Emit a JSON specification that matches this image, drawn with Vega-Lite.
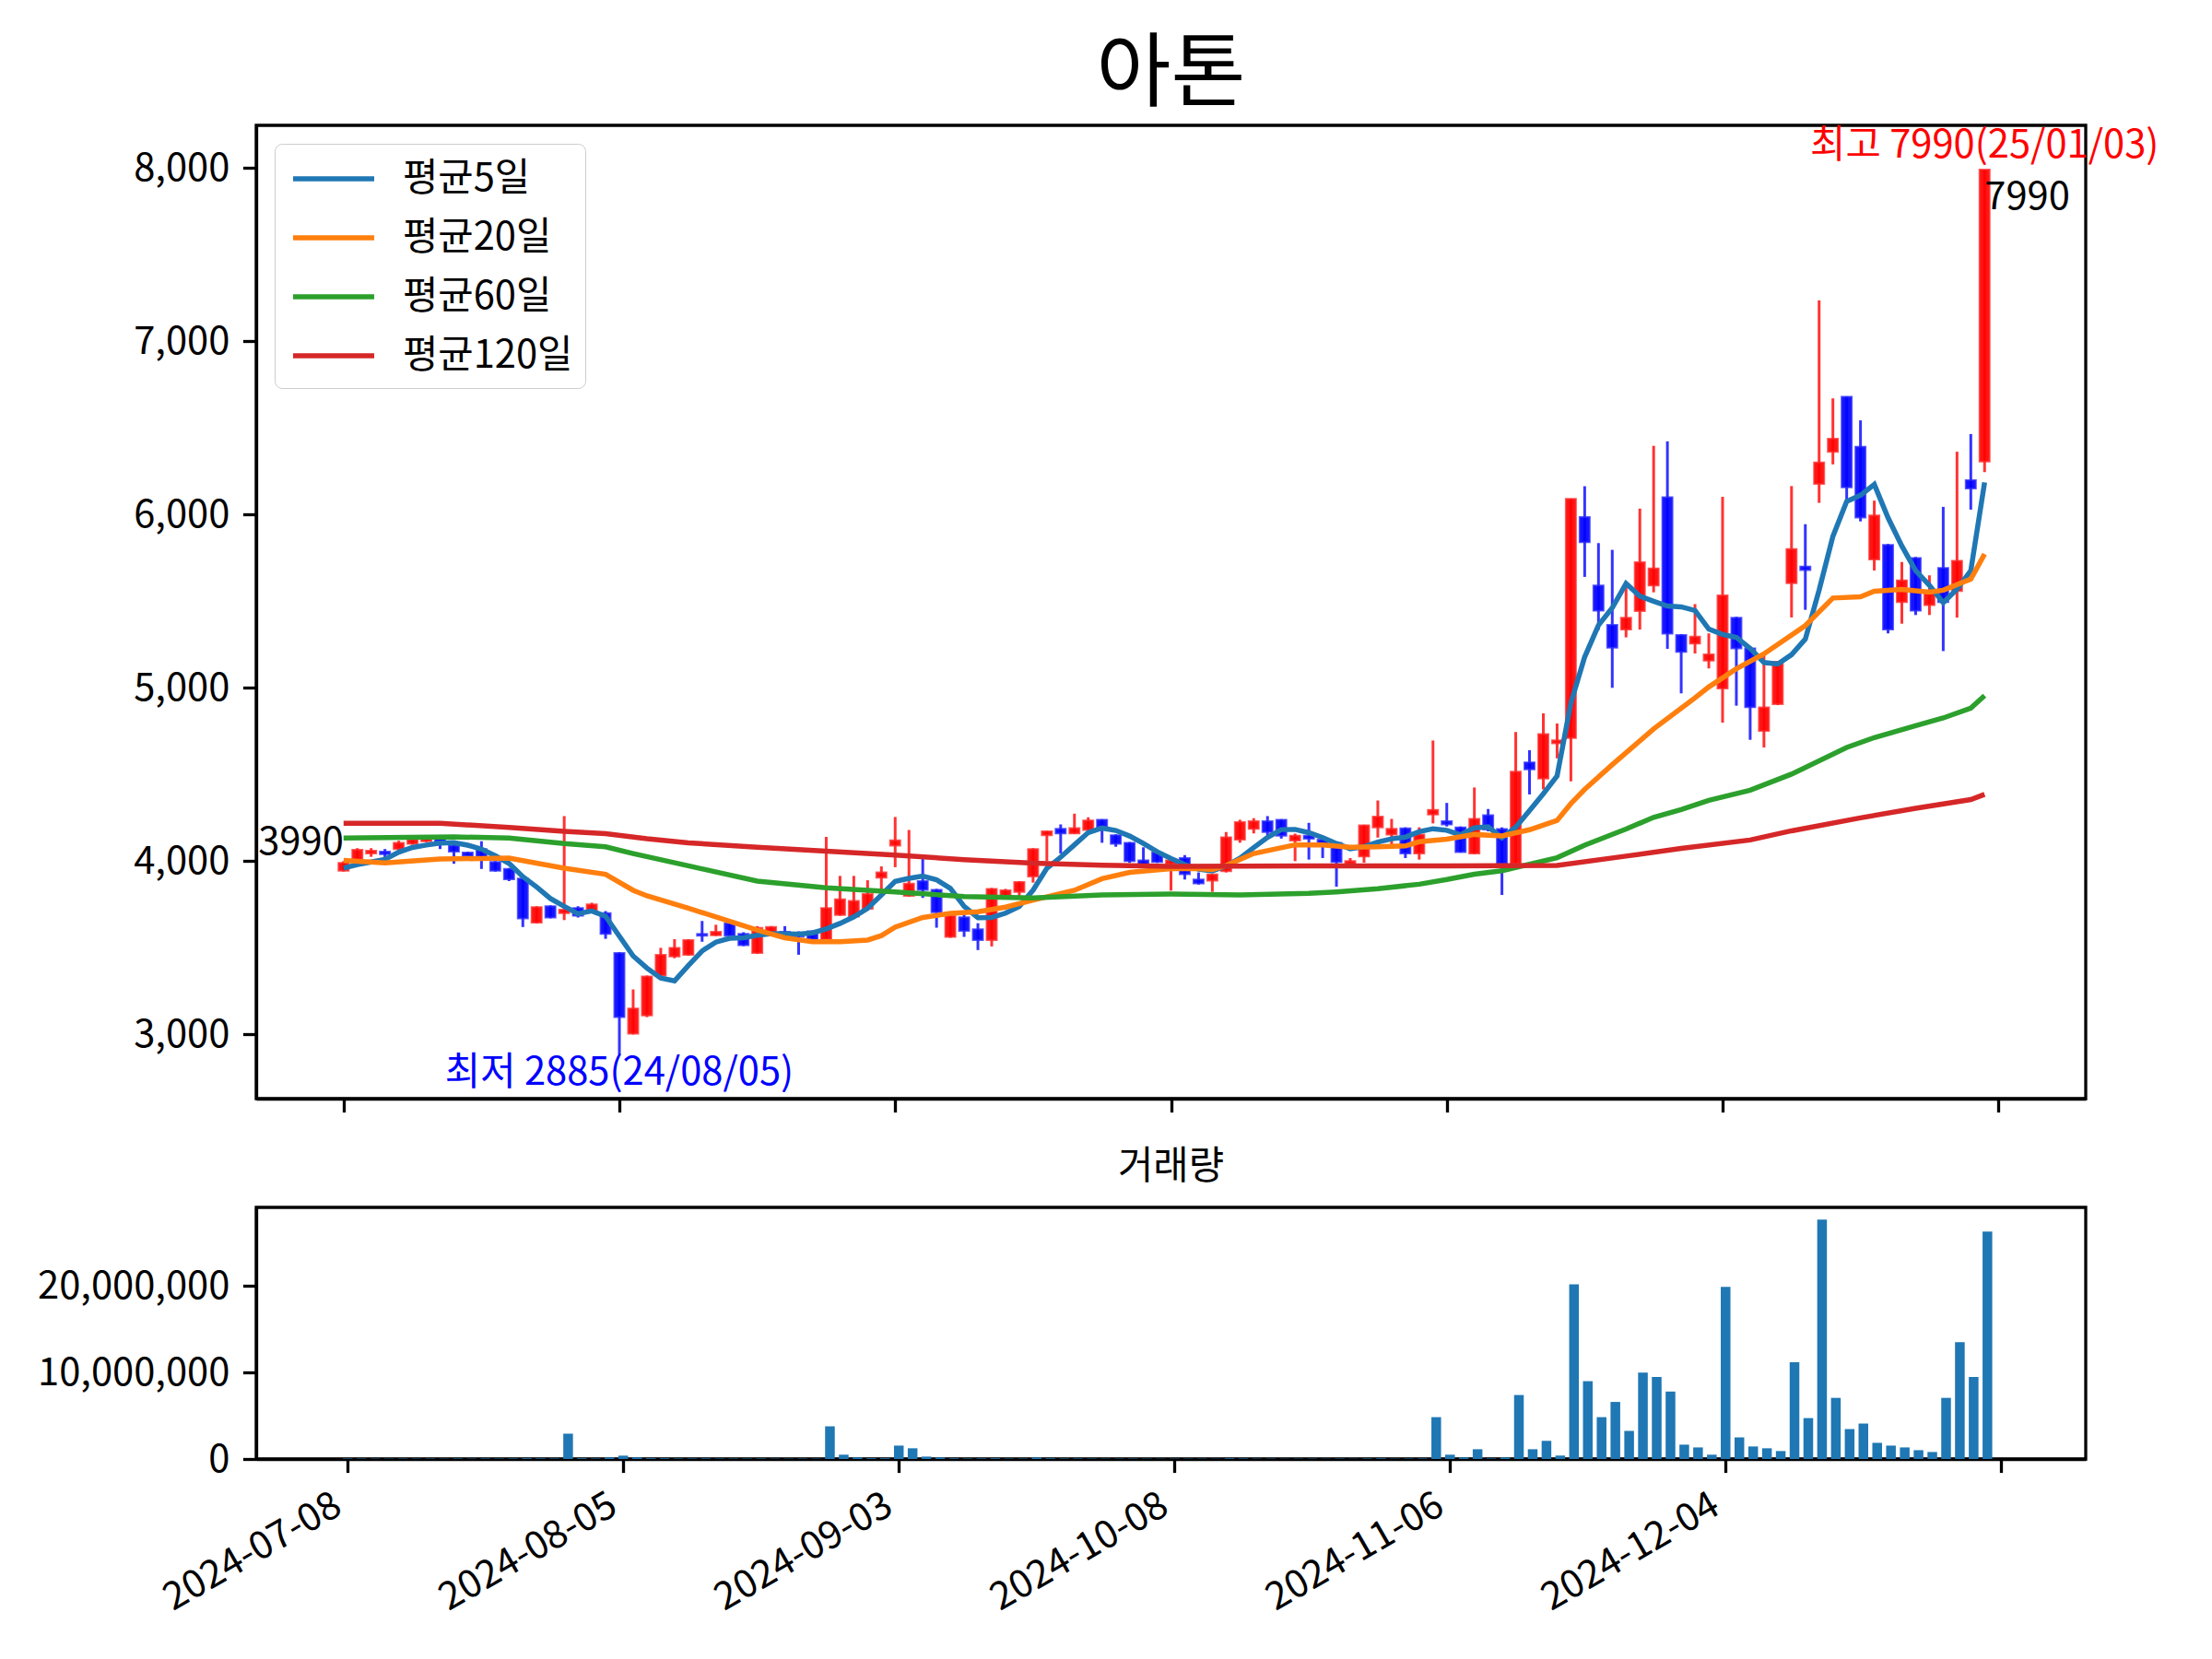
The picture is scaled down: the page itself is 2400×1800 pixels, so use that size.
{
  "$schema": "https://vega.github.io/schema/vega-lite/v6.json",
  "description": "아톤 candlestick chart with moving averages and volume",
  "background": "white",
  "autosize": {"type": "pad"},
  "padding": {"left": 38, "top": 38, "right": 10, "bottom": 10},
  "title": {"text": "아톤", "fontSize": 88, "fontWeight": "normal", "font": "Noto Sans CJK KR", "color": "#000000", "anchor": "middle", "frame": "group", "offset": 8},
  "config": {
    "font": "Noto Sans CJK KR",
    "view": {"stroke": "#000000", "strokeWidth": 3.3},
    "axis": {
      "grid": false,
      "domainColor": "#000000",
      "domainWidth": 3.3,
      "tickColor": "#000000",
      "tickWidth": 3.3,
      "tickSize": 14.6,
      "labelFont": "Noto Sans CJK KR",
      "labelFontSize": 41.7,
      "labelColor": "#000000",
      "labelPadding": 14.6,
      "labelOverlap": false,
      "labelFlush": false,
      "labelLimit": 500
    }
  },
  "datasets": {
    "ohlcv": [
      {"i":0,"o":3945,"h":4000,"l":3940,"c":3990,"v":60000},
      {"i":1,"o":4005,"h":4075,"l":4000,"c":4065,"v":50000},
      {"i":2,"o":4045,"h":4075,"l":4025,"c":4060,"v":40000},
      {"i":3,"o":4055,"h":4070,"l":4000,"c":4040,"v":40000},
      {"i":4,"o":4070,"h":4118,"l":4060,"c":4105,"v":50000},
      {"i":5,"o":4100,"h":4135,"l":4095,"c":4125,"v":40000},
      {"i":6,"o":4115,"h":4150,"l":4110,"c":4135,"v":50000},
      {"i":7,"o":4130,"h":4140,"l":4070,"c":4115,"v":40000},
      {"i":8,"o":4090,"h":4105,"l":3985,"c":4055,"v":60000},
      {"i":9,"o":4050,"h":4055,"l":4025,"c":4030,"v":40000},
      {"i":10,"o":4070,"h":4115,"l":3955,"c":4010,"v":60000},
      {"i":11,"o":3995,"h":4000,"l":3940,"c":3945,"v":50000},
      {"i":12,"o":3955,"h":3960,"l":3885,"c":3895,"v":60000},
      {"i":13,"o":3900,"h":3900,"l":3620,"c":3670,"v":90000},
      {"i":14,"o":3645,"h":3740,"l":3640,"c":3735,"v":70000},
      {"i":15,"o":3740,"h":3745,"l":3670,"c":3675,"v":60000},
      {"i":16,"o":3700,"h":4260,"l":3660,"c":3720,"v":2930000},
      {"i":17,"o":3730,"h":3740,"l":3675,"c":3685,"v":90000},
      {"i":18,"o":3705,"h":3760,"l":3700,"c":3750,"v":60000},
      {"i":19,"o":3700,"h":3712,"l":3552,"c":3580,"v":180000},
      {"i":20,"o":3470,"h":3475,"l":2885,"c":3100,"v":390000},
      {"i":21,"o":3005,"h":3260,"l":3000,"c":3150,"v":180000},
      {"i":22,"o":3110,"h":3340,"l":3100,"c":3335,"v":90000},
      {"i":23,"o":3340,"h":3500,"l":3330,"c":3460,"v":80000},
      {"i":24,"o":3450,"h":3550,"l":3440,"c":3500,"v":60000},
      {"i":25,"o":3460,"h":3550,"l":3455,"c":3545,"v":60000},
      {"i":26,"o":3580,"h":3655,"l":3535,"c":3570,"v":70000},
      {"i":27,"o":3572,"h":3633,"l":3568,"c":3592,"v":50000},
      {"i":28,"o":3642,"h":3650,"l":3565,"c":3570,"v":50000},
      {"i":29,"o":3580,"h":3590,"l":3510,"c":3515,"v":50000},
      {"i":30,"o":3470,"h":3625,"l":3465,"c":3615,"v":60000},
      {"i":31,"o":3585,"h":3625,"l":3580,"c":3620,"v":40000},
      {"i":32,"o":3593,"h":3625,"l":3567,"c":3582,"v":40000},
      {"i":33,"o":3580,"h":3595,"l":3460,"c":3565,"v":50000},
      {"i":34,"o":3595,"h":3600,"l":3545,"c":3550,"v":40000},
      {"i":35,"o":3550,"h":4140,"l":3545,"c":3730,"v":3780000},
      {"i":36,"o":3690,"h":3915,"l":3685,"c":3780,"v":500000},
      {"i":37,"o":3680,"h":3915,"l":3675,"c":3770,"v":180000},
      {"i":38,"o":3725,"h":3890,"l":3720,"c":3810,"v":90000},
      {"i":39,"o":3905,"h":3970,"l":3815,"c":3935,"v":90000},
      {"i":40,"o":4090,"h":4255,"l":3965,"c":4120,"v":1550000},
      {"i":41,"o":3800,"h":4180,"l":3795,"c":3870,"v":1240000},
      {"i":42,"o":3885,"h":4018,"l":3788,"c":3835,"v":280000},
      {"i":43,"o":3835,"h":3840,"l":3616,"c":3705,"v":180000},
      {"i":44,"o":3563,"h":3690,"l":3558,"c":3685,"v":80000},
      {"i":45,"o":3676,"h":3700,"l":3563,"c":3598,"v":60000},
      {"i":46,"o":3607,"h":3642,"l":3487,"c":3545,"v":70000},
      {"i":47,"o":3545,"h":3845,"l":3508,"c":3840,"v":90000},
      {"i":48,"o":3797,"h":3840,"l":3780,"c":3832,"v":50000},
      {"i":49,"o":3823,"h":3885,"l":3796,"c":3880,"v":50000},
      {"i":50,"o":3912,"h":4075,"l":3876,"c":4070,"v":180000},
      {"i":51,"o":4150,"h":4175,"l":4000,"c":4172,"v":80000},
      {"i":52,"o":4186,"h":4212,"l":4044,"c":4160,"v":60000},
      {"i":53,"o":4160,"h":4274,"l":4158,"c":4190,"v":60000},
      {"i":54,"o":4180,"h":4253,"l":4175,"c":4235,"v":50000},
      {"i":55,"o":4239,"h":4242,"l":4106,"c":4198,"v":40000},
      {"i":56,"o":4150,"h":4155,"l":4083,"c":4100,"v":40000},
      {"i":57,"o":4106,"h":4110,"l":3990,"c":4000,"v":50000},
      {"i":58,"o":4005,"h":4080,"l":3970,"c":3975,"v":40000},
      {"i":59,"o":4050,"h":4060,"l":3990,"c":3995,"v":30000},
      {"i":60,"o":3985,"h":4010,"l":3830,"c":4005,"v":40000},
      {"i":61,"o":4018,"h":4035,"l":3894,"c":3925,"v":40000},
      {"i":62,"o":3894,"h":3935,"l":3865,"c":3872,"v":40000},
      {"i":63,"o":3888,"h":3925,"l":3823,"c":3924,"v":30000},
      {"i":64,"o":3942,"h":4168,"l":3935,"c":4138,"v":80000},
      {"i":65,"o":4124,"h":4239,"l":4106,"c":4225,"v":60000},
      {"i":66,"o":4186,"h":4248,"l":4160,"c":4230,"v":40000},
      {"i":67,"o":4230,"h":4260,"l":4150,"c":4168,"v":40000},
      {"i":68,"o":4239,"h":4242,"l":4130,"c":4147,"v":30000},
      {"i":69,"o":4119,"h":4159,"l":4000,"c":4147,"v":40000},
      {"i":70,"o":4147,"h":4221,"l":4009,"c":4130,"v":40000},
      {"i":71,"o":4124,"h":4125,"l":4018,"c":4090,"v":30000},
      {"i":72,"o":4106,"h":4110,"l":3853,"c":3995,"v":50000},
      {"i":73,"o":3985,"h":4018,"l":3982,"c":4000,"v":30000},
      {"i":74,"o":4027,"h":4210,"l":3991,"c":4207,"v":60000},
      {"i":75,"o":4195,"h":4350,"l":4136,"c":4257,"v":80000},
      {"i":76,"o":4154,"h":4244,"l":4080,"c":4186,"v":40000},
      {"i":77,"o":4189,"h":4195,"l":4018,"c":4044,"v":50000},
      {"i":78,"o":4044,"h":4195,"l":4009,"c":4154,"v":60000},
      {"i":79,"o":4269,"h":4696,"l":4218,"c":4296,"v":4840000},
      {"i":80,"o":4230,"h":4336,"l":4200,"c":4212,"v":500000},
      {"i":81,"o":4195,"h":4200,"l":4050,"c":4053,"v":180000},
      {"i":82,"o":4044,"h":4425,"l":4040,"c":4244,"v":1130000},
      {"i":83,"o":4265,"h":4301,"l":4172,"c":4183,"v":60000},
      {"i":84,"o":4185,"h":4195,"l":3805,"c":3985,"v":180000},
      {"i":85,"o":3985,"h":4745,"l":3980,"c":4516,"v":7400000},
      {"i":86,"o":4570,"h":4640,"l":4385,"c":4530,"v":1130000},
      {"i":87,"o":4477,"h":4853,"l":4414,"c":4733,"v":2100000},
      {"i":88,"o":4680,"h":4794,"l":4593,"c":4697,"v":400000},
      {"i":89,"o":4710,"h":6090,"l":4460,"c":6090,"v":20200000},
      {"i":90,"o":5985,"h":6163,"l":5640,"c":5840,"v":9000000},
      {"i":91,"o":5590,"h":5835,"l":5335,"c":5445,"v":4840000},
      {"i":92,"o":5363,"h":5796,"l":5000,"c":5232,"v":6600000},
      {"i":93,"o":5336,"h":5604,"l":5291,"c":5404,"v":3250000},
      {"i":94,"o":5443,"h":6034,"l":5336,"c":5724,"v":10000000},
      {"i":95,"o":5590,"h":6396,"l":5551,"c":5689,"v":9500000},
      {"i":96,"o":6100,"h":6422,"l":5225,"c":5313,"v":7800000},
      {"i":97,"o":5305,"h":5310,"l":4968,"c":5207,"v":1660000},
      {"i":98,"o":5255,"h":5483,"l":5198,"c":5295,"v":1340000},
      {"i":99,"o":5157,"h":5314,"l":5112,"c":5193,"v":500000},
      {"i":100,"o":4996,"h":6102,"l":4799,"c":5533,"v":19900000},
      {"i":101,"o":5404,"h":5410,"l":4897,"c":5228,"v":2500000},
      {"i":102,"o":5228,"h":5230,"l":4700,"c":4888,"v":1450000},
      {"i":103,"o":4751,"h":5189,"l":4656,"c":4887,"v":1240000},
      {"i":104,"o":4906,"h":5155,"l":4900,"c":5150,"v":920000},
      {"i":105,"o":5604,"h":6164,"l":5406,"c":5801,"v":11200000},
      {"i":106,"o":5700,"h":5944,"l":5450,"c":5680,"v":4730000},
      {"i":107,"o":6176,"h":7235,"l":6067,"c":6300,"v":27700000},
      {"i":108,"o":6362,"h":6670,"l":6289,"c":6437,"v":7070000},
      {"i":109,"o":6679,"h":6680,"l":6085,"c":6157,"v":3460000},
      {"i":110,"o":6391,"h":6543,"l":5960,"c":5983,"v":4100000},
      {"i":111,"o":5740,"h":6080,"l":5677,"c":5994,"v":1870000},
      {"i":112,"o":5824,"h":5830,"l":5314,"c":5336,"v":1550000},
      {"i":113,"o":5495,"h":5726,"l":5370,"c":5620,"v":1340000},
      {"i":114,"o":5749,"h":5755,"l":5420,"c":5445,"v":1020000},
      {"i":115,"o":5477,"h":5649,"l":5420,"c":5559,"v":810000},
      {"i":116,"o":5692,"h":6044,"l":5212,"c":5495,"v":7070000},
      {"i":117,"o":5559,"h":6362,"l":5405,"c":5733,"v":13500000},
      {"i":118,"o":6198,"h":6464,"l":6028,"c":6150,"v":9500000},
      {"i":119,"o":6305,"h":7990,"l":6244,"c":7990,"v":26300000}
    ],
    "ma": [
      {"i":0,"k":"평균5일","v":3960},{"i":1,"k":"평균5일","v":3980},{"i":2,"k":"평균5일","v":3995},{"i":3,"k":"평균5일","v":4010},
      {"i":4,"k":"평균5일","v":4052},{"i":5,"k":"평균5일","v":4079},{"i":6,"k":"평균5일","v":4093},{"i":7,"k":"평균5일","v":4104},
      {"i":8,"k":"평균5일","v":4107},{"i":9,"k":"평균5일","v":4092},{"i":10,"k":"평균5일","v":4069},{"i":11,"k":"평균5일","v":4031},
      {"i":12,"k":"평균5일","v":3987},{"i":13,"k":"평균5일","v":3910},{"i":14,"k":"평균5일","v":3851},{"i":15,"k":"평균5일","v":3784},
      {"i":16,"k":"평균5일","v":3739},{"i":17,"k":"평균5일","v":3697},{"i":18,"k":"평균5일","v":3713},{"i":19,"k":"평균5일","v":3682},
      {"i":20,"k":"평균5일","v":3567},{"i":21,"k":"평균5일","v":3453},{"i":22,"k":"평균5일","v":3383},{"i":23,"k":"평균5일","v":3325},
      {"i":24,"k":"평균5일","v":3309},{"i":25,"k":"평균5일","v":3398},{"i":26,"k":"평균5일","v":3482},{"i":27,"k":"평균5일","v":3533},
      {"i":28,"k":"평균5일","v":3555},{"i":29,"k":"평균5일","v":3558},{"i":30,"k":"평균5일","v":3572},{"i":31,"k":"평균5일","v":3582},
      {"i":32,"k":"평균5일","v":3580},{"i":33,"k":"평균5일","v":3579},{"i":34,"k":"평균5일","v":3586},{"i":35,"k":"평균5일","v":3609},
      {"i":36,"k":"평균5일","v":3641},{"i":37,"k":"평균5일","v":3679},{"i":38,"k":"평균5일","v":3728},{"i":39,"k":"평균5일","v":3805},
      {"i":40,"k":"평균5일","v":3883},{"i":41,"k":"평균5일","v":3901},{"i":42,"k":"평균5일","v":3914},{"i":43,"k":"평균5일","v":3893},
      {"i":44,"k":"평균5일","v":3843},{"i":45,"k":"평균5일","v":3739},{"i":46,"k":"평균5일","v":3674},{"i":47,"k":"평균5일","v":3675},
      {"i":48,"k":"평균5일","v":3700},{"i":49,"k":"평균5일","v":3739},{"i":50,"k":"평균5일","v":3833},{"i":51,"k":"평균5일","v":3959},
      {"i":52,"k":"평균5일","v":4023},{"i":53,"k":"평균5일","v":4094},{"i":54,"k":"평균5일","v":4165},{"i":55,"k":"평균5일","v":4191},
      {"i":56,"k":"평균5일","v":4177},{"i":57,"k":"평균5일","v":4145},{"i":58,"k":"평균5일","v":4102},{"i":59,"k":"평균5일","v":4054},
      {"i":60,"k":"평균5일","v":4015},{"i":61,"k":"평균5일","v":3980},{"i":62,"k":"평균5일","v":3954},{"i":63,"k":"평균5일","v":3944},
      {"i":64,"k":"평균5일","v":3973},{"i":65,"k":"평균5일","v":4017},{"i":66,"k":"평균5일","v":4078},{"i":67,"k":"평균5일","v":4137},
      {"i":68,"k":"평균5일","v":4182},{"i":69,"k":"평균5일","v":4183},{"i":70,"k":"평균5일","v":4164},{"i":71,"k":"평균5일","v":4136},
      {"i":72,"k":"평균5일","v":4102},{"i":73,"k":"평균5일","v":4072},{"i":74,"k":"평균5일","v":4084},{"i":75,"k":"평균5일","v":4110},
      {"i":76,"k":"평균5일","v":4129},{"i":77,"k":"평균5일","v":4139},{"i":78,"k":"평균5일","v":4170},{"i":79,"k":"평균5일","v":4187},
      {"i":80,"k":"평균5일","v":4178},{"i":81,"k":"평균5일","v":4152},{"i":82,"k":"평균5일","v":4192},{"i":83,"k":"평균5일","v":4198},
      {"i":84,"k":"평균5일","v":4135},{"i":85,"k":"평균5일","v":4196},{"i":86,"k":"평균5일","v":4292},{"i":87,"k":"평균5일","v":4389},
      {"i":88,"k":"평균5일","v":4492},{"i":89,"k":"평균5일","v":4913},{"i":90,"k":"평균5일","v":5178},{"i":91,"k":"평균5일","v":5361},
      {"i":92,"k":"평균5일","v":5461},{"i":93,"k":"평균5일","v":5602},{"i":94,"k":"평균5일","v":5529},{"i":95,"k":"평균5일","v":5499},
      {"i":96,"k":"평균5일","v":5472},{"i":97,"k":"평균5일","v":5467},{"i":98,"k":"평균5일","v":5446},{"i":99,"k":"평균5일","v":5339},
      {"i":100,"k":"평균5일","v":5308},{"i":101,"k":"평균5일","v":5291},{"i":102,"k":"평균5일","v":5227},{"i":103,"k":"평균5일","v":5146},
      {"i":104,"k":"평균5일","v":5137},{"i":105,"k":"평균5일","v":5191},{"i":106,"k":"평균5일","v":5281},{"i":107,"k":"평균5일","v":5564},
      {"i":108,"k":"평균5일","v":5874},{"i":109,"k":"평균5일","v":6075},{"i":110,"k":"평균5일","v":6111},{"i":111,"k":"평균5일","v":6174},
      {"i":112,"k":"평균5일","v":5981},{"i":113,"k":"평균5일","v":5818},{"i":114,"k":"평균5일","v":5676},{"i":115,"k":"평균5일","v":5591},
      {"i":116,"k":"평균5일","v":5491},{"i":117,"k":"평균5일","v":5570},{"i":118,"k":"평균5일","v":5676},{"i":119,"k":"평균5일","v":6185},

      {"i":0,"k":"평균20일","v":4005},{"i":3,"k":"평균20일","v":3990},{"i":7,"k":"평균20일","v":4012},{"i":12,"k":"평균20일","v":4018},
      {"i":16,"k":"평균20일","v":3959},{"i":19,"k":"평균20일","v":3924},{"i":21,"k":"평균20일","v":3832},{"i":22,"k":"평균20일","v":3800},
      {"i":25,"k":"평균20일","v":3729},{"i":30,"k":"평균20일","v":3602},{"i":32,"k":"평균20일","v":3558},{"i":34,"k":"평균20일","v":3535},
      {"i":36,"k":"평균20일","v":3535},{"i":38,"k":"평균20일","v":3545},{"i":39,"k":"평균20일","v":3570},{"i":40,"k":"평균20일","v":3619},
      {"i":42,"k":"평균20일","v":3675},{"i":44,"k":"평균20일","v":3699},{"i":46,"k":"평균20일","v":3708},{"i":48,"k":"평균20일","v":3735},
      {"i":50,"k":"평균20일","v":3775},{"i":53,"k":"평균20일","v":3832},{"i":55,"k":"평균20일","v":3899},{"i":57,"k":"평균20일","v":3935},
      {"i":60,"k":"평균20일","v":3956},{"i":62,"k":"평균20일","v":3956},{"i":63,"k":"평균20일","v":3952},{"i":64,"k":"평균20일","v":3975},
      {"i":66,"k":"평균20일","v":4044},{"i":69,"k":"평균20일","v":4094},{"i":71,"k":"평균20일","v":4094},{"i":73,"k":"평균20일","v":4080},
      {"i":75,"k":"평균20일","v":4083},{"i":77,"k":"평균20일","v":4088},{"i":78,"k":"평균20일","v":4112},{"i":80,"k":"평균20일","v":4127},
      {"i":82,"k":"평균20일","v":4154},{"i":84,"k":"평균20일","v":4146},{"i":86,"k":"평균20일","v":4181},{"i":88,"k":"평균20일","v":4235},
      {"i":89,"k":"평균20일","v":4332},{"i":90,"k":"평균20일","v":4414},{"i":92,"k":"평균20일","v":4557},{"i":95,"k":"평균20일","v":4763},
      {"i":98,"k":"평균20일","v":4942},{"i":99,"k":"평균20일","v":5005},{"i":101,"k":"평균20일","v":5110},{"i":103,"k":"평균20일","v":5196},
      {"i":106,"k":"평균20일","v":5359},{"i":108,"k":"평균20일","v":5518},{"i":110,"k":"평균20일","v":5525},{"i":111,"k":"평균20일","v":5557},
      {"i":113,"k":"평균20일","v":5568},{"i":115,"k":"평균20일","v":5552},{"i":116,"k":"평균20일","v":5563},{"i":118,"k":"평균20일","v":5627},
      {"i":119,"k":"평균20일","v":5772},

      {"i":0,"k":"평균60일","v":4133},{"i":8,"k":"평균60일","v":4140},{"i":12,"k":"평균60일","v":4133},{"i":16,"k":"평균60일","v":4101},
      {"i":19,"k":"평균60일","v":4083},{"i":21,"k":"평균60일","v":4044},{"i":25,"k":"평균60일","v":3973},{"i":30,"k":"평균60일","v":3885},
      {"i":35,"k":"평균60일","v":3846},{"i":40,"k":"평균60일","v":3823},{"i":45,"k":"평균60일","v":3796},{"i":50,"k":"평균60일","v":3788},
      {"i":55,"k":"평균60일","v":3805},{"i":60,"k":"평균60일","v":3811},{"i":65,"k":"평균60일","v":3805},{"i":70,"k":"평균60일","v":3814},
      {"i":72,"k":"평균60일","v":3823},{"i":75,"k":"평균60일","v":3841},{"i":78,"k":"평균60일","v":3867},{"i":80,"k":"평균60일","v":3894},
      {"i":82,"k":"평균60일","v":3925},{"i":84,"k":"평균60일","v":3945},{"i":88,"k":"평균60일","v":4020},{"i":90,"k":"평균60일","v":4092},
      {"i":93,"k":"평균60일","v":4185},{"i":95,"k":"평균60일","v":4253},{"i":97,"k":"평균60일","v":4298},{"i":99,"k":"평균60일","v":4351},
      {"i":102,"k":"평균60일","v":4409},{"i":105,"k":"평균60일","v":4502},{"i":109,"k":"평균60일","v":4656},{"i":111,"k":"평균60일","v":4713},
      {"i":114,"k":"평균60일","v":4781},{"i":116,"k":"평균60일","v":4826},{"i":118,"k":"평균60일","v":4883},{"i":119,"k":"평균60일","v":4955},

      {"i":0,"k":"평균120일","v":4218},{"i":7,"k":"평균120일","v":4218},{"i":12,"k":"평균120일","v":4195},{"i":16,"k":"평균120일","v":4172},
      {"i":19,"k":"평균120일","v":4159},{"i":22,"k":"평균120일","v":4129},{"i":25,"k":"평균120일","v":4106},{"i":30,"k":"평균120일","v":4080},
      {"i":35,"k":"평균120일","v":4058},{"i":40,"k":"평균120일","v":4035},{"i":45,"k":"평균120일","v":4009},{"i":50,"k":"평균120일","v":3988},
      {"i":55,"k":"평균120일","v":3977},{"i":60,"k":"평균120일","v":3970},{"i":70,"k":"평균120일","v":3972},{"i":80,"k":"평균120일","v":3972},
      {"i":88,"k":"평균120일","v":3975},{"i":93,"k":"평균120일","v":4029},{"i":97,"k":"평균120일","v":4074},{"i":102,"k":"평균120일","v":4122},
      {"i":105,"k":"평균120일","v":4175},{"i":110,"k":"평균120일","v":4250},{"i":114,"k":"평균120일","v":4305},{"i":118,"k":"평균120일","v":4355},
      {"i":119,"k":"평균120일","v":4385}
    ]
  },
  "spacing": 118,
  "bounds": "flush",
  "vconcat": [
    {
      "width": 1985,
      "height": 1056,
      "layer": [
        {
          "data": {"name": "ohlcv"},
          "mark": {"type": "rule", "strokeWidth": 3, "opacity": 0.8},
          "encoding": {
            "x": {
              "field": "i",
              "type": "quantitative",
              "scale": {"domain": [-6, 126], "nice": false, "zero": false},
              "axis": {"values": [0, 20, 40, 60, 80, 100, 120], "labels": false, "title": null}
            },
            "y": {
              "field": "l",
              "type": "quantitative",
              "scale": {"domain": [2630, 8245], "nice": false, "zero": false},
              "axis": {"values": [3000, 4000, 5000, 6000, 7000, 8000], "labelExpr": "format(datum.value, ',')", "title": null}
            },
            "y2": {"field": "h"},
            "color": {"condition": {"test": "datum.c >= datum.o", "value": "#ff0000"}, "value": "#0000ff"}
          }
        },
        {
          "data": {"name": "ohlcv"},
          "mark": {"type": "bar", "width": 11, "strokeWidth": 2, "fillOpacity": 0.92, "strokeOpacity": 0.75},
          "encoding": {
            "x": {"field": "i", "type": "quantitative"},
            "y": {"field": "o", "type": "quantitative"},
            "y2": {"field": "c"},
            "color": {"condition": {"test": "datum.c >= datum.o", "value": "#ff0000"}, "value": "#0000ff"},
            "stroke": {"condition": {"test": "datum.c >= datum.o", "value": "#ff2a2a"}, "value": "#2a2aff"}
          }
        },
        {
          "data": {"name": "ma"},
          "mark": {"type": "line", "strokeWidth": 5.5},
          "encoding": {
            "x": {"field": "i", "type": "quantitative"},
            "y": {"field": "v", "type": "quantitative"},
            "color": {
              "field": "k",
              "type": "nominal",
              "scale": {
                "domain": ["평균5일", "평균20일", "평균60일", "평균120일"],
                "range": ["#1f77b4", "#ff7f0e", "#2ca02c", "#d62728"]
              },
              "legend": {
                "title": null,
                "orient": "top-left",
                "offset": 20,
                "padding": 13,
                "strokeColor": "#cccccc",
                "cornerRadius": 8,
                "fillColor": "rgba(255,255,255,0.8)",
                "symbolType": "M-2,0H2",
                "symbolSize": 1936,
                "symbolStrokeWidth": 5.5,
                "symbolOffset": 26,
                "labelOffset": 50,
                "labelFontSize": 41.7,
                "labelFont": "Noto Sans CJK KR",
                "labelColor": "#000000",
                "labelLimit": 400,
                "rowPadding": 17
              }
            }
          }
        },
        {
          "data": {"values": [{"i": 0, "p": 3990, "t": "3990"}]},
          "mark": {"type": "text", "align": "right", "baseline": "bottom", "fontSize": 41.7, "color": "#000000"},
          "encoding": {
            "x": {"field": "i", "type": "quantitative"},
            "y": {"field": "p", "type": "quantitative"},
            "text": {"field": "t"}
          }
        },
        {
          "data": {"values": [{"i": 119, "p": 7990, "t": "7990"}]},
          "mark": {"type": "text", "align": "left", "baseline": "top", "dy": 10, "fontSize": 41.7, "color": "#000000"},
          "encoding": {
            "x": {"field": "i", "type": "quantitative"},
            "y": {"field": "p", "type": "quantitative"},
            "text": {"field": "t"}
          }
        },
        {
          "data": {"values": [{"i": 119, "p": 7990, "t": "최고 7990(25/01/03)"}]},
          "mark": {"type": "text", "align": "center", "baseline": "bottom", "dy": -4, "fontSize": 41.7, "color": "#ff0000"},
          "encoding": {
            "x": {"field": "i", "type": "quantitative"},
            "y": {"field": "p", "type": "quantitative"},
            "text": {"field": "t"}
          }
        },
        {
          "data": {"values": [{"i": 20, "p": 2885, "t": "최저 2885(24/08/05)"}]},
          "mark": {"type": "text", "align": "center", "baseline": "top", "fontSize": 41.7, "color": "#0000ff"},
          "encoding": {
            "x": {"field": "i", "type": "quantitative"},
            "y": {"field": "p", "type": "quantitative"},
            "text": {"field": "t"}
          }
        }
      ]
    },
    {
      "width": 1985,
      "height": 273,
      "title": {"text": "거래량", "fontSize": 41.7, "fontWeight": "normal", "color": "#000000", "anchor": "middle", "frame": "group", "offset": 22},
      "data": {"name": "ohlcv"},
      "mark": {"type": "bar", "width": 10.5, "color": "#1f77b4"},
      "encoding": {
        "x": {
          "field": "i",
          "type": "quantitative",
          "scale": {"domain": [-6.3, 125.8], "nice": false, "zero": false},
          "axis": {
            "values": [0, 20, 40, 60, 80, 100, 120],
            "labelExpr": "datum.value == 0 ? '2024-07-08' : datum.value == 20 ? '2024-08-05' : datum.value == 40 ? '2024-09-03' : datum.value == 60 ? '2024-10-08' : datum.value == 80 ? '2024-11-06' : datum.value == 100 ? '2024-12-04' : ''",
            "labelAngle": -30,
            "labelAlign": "right",
            "labelBaseline": "top",
            "labelOffset": -21,
            "title": null
          }
        },
        "y": {
          "field": "v",
          "type": "quantitative",
          "scale": {"domain": [0, 29100000], "nice": false},
          "axis": {"values": [0, 10000000, 20000000], "labelExpr": "format(datum.value, ',')", "title": null}
        }
      }
    }
  ]
}
